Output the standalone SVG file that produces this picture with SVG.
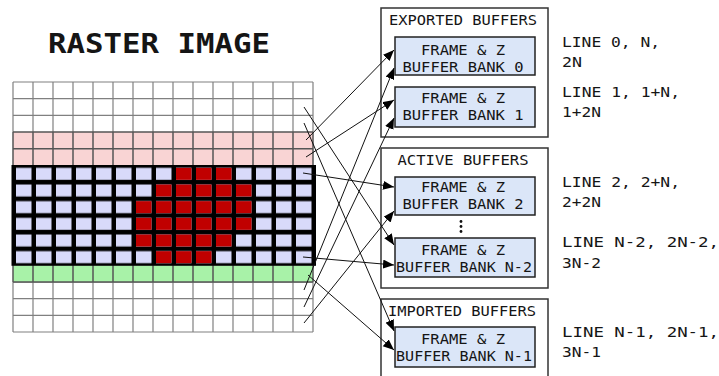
<svg xmlns="http://www.w3.org/2000/svg" width="719" height="376" viewBox="0 0 719 376">
<style>
.mono{font-family:"DejaVu Sans Mono","Liberation Mono",monospace;fill:#151515}
.t{font-size:14px}
.lbl{font-size:14.5px}
.box{fill:#dbe6f8;stroke:#222;stroke-width:1.5}
.cont{fill:#fff;stroke:#333;stroke-width:1.5}
.conn{stroke:#111;stroke-width:1;fill:none;marker-end:url(#arr)}
.gl{stroke:#808080;stroke-width:1.2;fill:none}
.gd{stroke:#555;stroke-width:1.5;fill:none}
.red{fill:#c00000}
</style>
<defs>
<marker id="arr" markerUnits="userSpaceOnUse" markerWidth="12" markerHeight="10" refX="11" refY="4.5" orient="auto">
<path d="M0,0 L11,4.5 L0,9 z" fill="#000"/>
</marker>
<pattern id="bl" patternUnits="userSpaceOnUse" x="13" y="165.33" width="20" height="16.667">
<rect x="3" y="2.5" width="15.5" height="12" fill="#d8dafa"/>
</pattern>
</defs>
<rect width="719" height="376" fill="#fff"/>

<g id="raster">
<text class="mono" x="48" y="53" font-size="26" font-weight="bold" textLength="222" lengthAdjust="spacingAndGlyphs">RASTER IMAGE</text>
<path class="gl" d="M13 82H313M13 98.67H313M13 115.33H313M13 282H313M13 298.67H313M13 315.33H313M13 332H313M13 82V132M33 82V132M53 82V132M73 82V132M93 82V132M113 82V132M133 82V132M153 82V132M173 82V132M193 82V132M213 82V132M233 82V132M253 82V132M273 82V132M293 82V132M313 82V132M13 282V332M33 282V332M53 282V332M73 282V332M93 282V332M113 282V332M133 282V332M153 282V332M173 282V332M193 282V332M213 282V332M233 282V332M253 282V332M273 282V332M293 282V332M313 282V332"/>
<rect x="13" y="132" width="300" height="33.33" fill="#f9d4d4"/>
<rect x="13" y="265.33" width="300" height="16.67" fill="#a8f2a8"/>
<path class="gd" d="M13 132H313M13 148.67H313M13 132V165.33M33 132V165.33M53 132V165.33M73 132V165.33M93 132V165.33M113 132V165.33M133 132V165.33M153 132V165.33M173 132V165.33M193 132V165.33M213 132V165.33M233 132V165.33M253 132V165.33M273 132V165.33M293 132V165.33M313 132V165.33M13 282H313M13 265.33V282M33 265.33V282M53 265.33V282M73 265.33V282M93 265.33V282M113 265.33V282M133 265.33V282M153 265.33V282M173 265.33V282M193 265.33V282M213 265.33V282M233 265.33V282M253 265.33V282M273 265.33V282M293 265.33V282M313 265.33V282"/>
<rect x="11.5" y="165" width="304.5" height="100.8" fill="#000"/>
<rect x="13" y="165.33" width="300" height="100" fill="url(#bl)"/>
<rect class="red" x="176" y="167.83" width="15.5" height="12"/>
<rect class="red" x="196" y="167.83" width="15.5" height="12"/>
<rect class="red" x="216" y="167.83" width="15.5" height="12"/>
<rect class="red" x="156" y="184.5" width="15.5" height="12"/>
<rect class="red" x="176" y="184.5" width="15.5" height="12"/>
<rect class="red" x="196" y="184.5" width="15.5" height="12"/>
<rect class="red" x="216" y="184.5" width="15.5" height="12"/>
<rect class="red" x="236" y="184.5" width="15.5" height="12"/>
<rect class="red" x="136" y="201.17" width="15.5" height="12"/>
<rect class="red" x="156" y="201.17" width="15.5" height="12"/>
<rect class="red" x="176" y="201.17" width="15.5" height="12"/>
<rect class="red" x="196" y="201.17" width="15.5" height="12"/>
<rect class="red" x="216" y="201.17" width="15.5" height="12"/>
<rect class="red" x="236" y="201.17" width="15.5" height="12"/>
<rect class="red" x="136" y="217.83" width="15.5" height="12"/>
<rect class="red" x="156" y="217.83" width="15.5" height="12"/>
<rect class="red" x="176" y="217.83" width="15.5" height="12"/>
<rect class="red" x="196" y="217.83" width="15.5" height="12"/>
<rect class="red" x="216" y="217.83" width="15.5" height="12"/>
<rect class="red" x="236" y="217.83" width="15.5" height="12"/>
<rect class="red" x="136" y="234.5" width="15.5" height="12"/>
<rect class="red" x="156" y="234.5" width="15.5" height="12"/>
<rect class="red" x="176" y="234.5" width="15.5" height="12"/>
<rect class="red" x="196" y="234.5" width="15.5" height="12"/>
<rect class="red" x="216" y="234.5" width="15.5" height="12"/>
<rect class="red" x="156" y="251.17" width="15.5" height="12"/>
<rect class="red" x="176" y="251.17" width="15.5" height="12"/>
<rect class="red" x="196" y="251.17" width="15.5" height="12"/>
</g>

<g id="exported">
<rect class="cont" x="381" y="8" width="167" height="129"/>
<text class="mono t" x="463" y="25" text-anchor="middle" textLength="148" lengthAdjust="spacingAndGlyphs">EXPORTED BUFFERS</text>
</g>
<g id="bank0">
<rect class="box" x="395" y="37" width="140" height="38"/>
<text class="mono t" x="463" y="55" text-anchor="middle" textLength="84" lengthAdjust="spacingAndGlyphs">FRAME &amp; Z</text>
<text class="mono t" x="463" y="72" text-anchor="middle" textLength="121" lengthAdjust="spacingAndGlyphs">BUFFER BANK 0</text>
</g>
<g id="bank1">
<rect class="box" x="395" y="87" width="140" height="40"/>
<text class="mono t" x="463" y="103" text-anchor="middle" textLength="84" lengthAdjust="spacingAndGlyphs">FRAME &amp; Z</text>
<text class="mono t" x="463" y="120" text-anchor="middle" textLength="121" lengthAdjust="spacingAndGlyphs">BUFFER BANK 1</text>
</g>

<g id="active">
<rect class="cont" x="381" y="148" width="167" height="140"/>
<text class="mono t" x="463" y="165" text-anchor="middle" textLength="131" lengthAdjust="spacingAndGlyphs">ACTIVE BUFFERS</text>
<circle cx="461" cy="221.5" r="1.4" fill="#111"/>
<circle cx="461" cy="226.5" r="1.4" fill="#111"/>
<circle cx="461" cy="231.5" r="1.4" fill="#111"/>
</g>
<g id="bank2">
<rect class="box" x="395" y="177" width="140" height="38"/>
<text class="mono t" x="463" y="192" text-anchor="middle" textLength="84" lengthAdjust="spacingAndGlyphs">FRAME &amp; Z</text>
<text class="mono t" x="463" y="208.5" text-anchor="middle" textLength="121" lengthAdjust="spacingAndGlyphs">BUFFER BANK 2</text>
</g>
<g id="bankN2">
<rect class="box" x="395" y="238" width="140" height="39"/>
<text class="mono t" x="463" y="255" text-anchor="middle" textLength="84" lengthAdjust="spacingAndGlyphs">FRAME &amp; Z</text>
<text class="mono t" x="464" y="272" text-anchor="middle" textLength="136" lengthAdjust="spacingAndGlyphs">BUFFER BANK N-2</text>
</g>

<g id="imported">
<rect class="cont" x="381" y="299" width="167" height="90"/>
<text class="mono t" x="462" y="316" text-anchor="middle" textLength="148" lengthAdjust="spacingAndGlyphs">IMPORTED BUFFERS</text>
</g>
<g id="bankN1">
<rect class="box" x="395" y="327" width="140" height="40"/>
<text class="mono t" x="463" y="344" text-anchor="middle" textLength="84" lengthAdjust="spacingAndGlyphs">FRAME &amp; Z</text>
<text class="mono t" x="464" y="361" text-anchor="middle" textLength="136" lengthAdjust="spacingAndGlyphs">BUFFER BANK N-1</text>
</g>

<g id="labels">
<text class="mono lbl" x="562" y="47" textLength="98" lengthAdjust="spacingAndGlyphs">LINE 0, N,</text>
<text class="mono lbl" x="562" y="66.5" textLength="20" lengthAdjust="spacingAndGlyphs">2N</text>
<text class="mono lbl" x="562" y="97" textLength="118" lengthAdjust="spacingAndGlyphs">LINE 1, 1+N,</text>
<text class="mono lbl" x="562" y="117" textLength="39" lengthAdjust="spacingAndGlyphs">1+2N</text>
<text class="mono lbl" x="562" y="187" textLength="118" lengthAdjust="spacingAndGlyphs">LINE 2, 2+N,</text>
<text class="mono lbl" x="562" y="207" textLength="39" lengthAdjust="spacingAndGlyphs">2+2N</text>
<text class="mono lbl" x="562" y="247" textLength="157" lengthAdjust="spacingAndGlyphs">LINE N-2, 2N-2,</text>
<text class="mono lbl" x="562" y="267.5" textLength="39" lengthAdjust="spacingAndGlyphs">3N-2</text>
<text class="mono lbl" x="562" y="337" textLength="157" lengthAdjust="spacingAndGlyphs">LINE N-1, 2N-1,</text>
<text class="mono lbl" x="562" y="357" textLength="39" lengthAdjust="spacingAndGlyphs">3N-1</text>
</g>

<g id="connectors">
<line class="conn" x1="304" y1="107" x2="394" y2="245"/>
<line class="conn" x1="304" y1="123" x2="394" y2="331"/>
<line class="conn" x1="306" y1="140" x2="394" y2="50"/>
<line class="conn" x1="306" y1="157" x2="394" y2="100"/>
<line class="conn" x1="303" y1="173" x2="394" y2="187"/>
<line class="conn" x1="303" y1="257" x2="394" y2="265"/>
<line class="conn" x1="308" y1="275" x2="394" y2="350"/>
<line class="conn" x1="304" y1="290" x2="394" y2="68"/>
<line class="conn" x1="304" y1="307" x2="394" y2="118"/>
<line class="conn" x1="304" y1="323" x2="394" y2="211"/>
</g>
</svg>
